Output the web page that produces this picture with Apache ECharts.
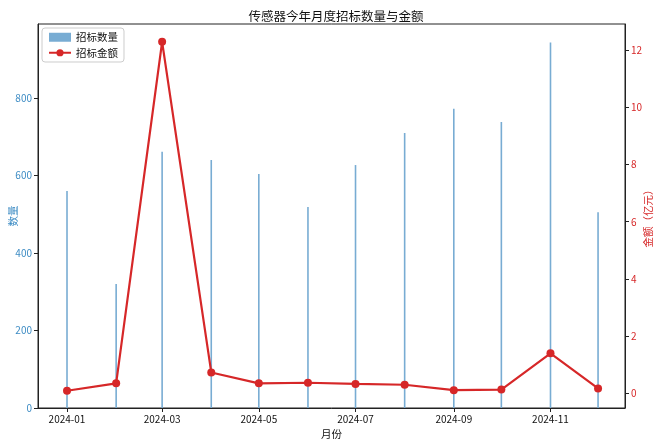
<!DOCTYPE html>
<html>
<head>
<meta charset="utf-8">
<script src="https://cdn.jsdelivr.net/npm/echarts@6/dist/echarts.min.js"></script>
<style>
html,body{margin:0;padding:0;background:#fff;}
#main{width:660px;height:446px;}
</style>
</head>
<body>
<div id="main"></div>
<script>
// ---- data ----
const months = ['2024-01','2024-02','2024-03','2024-04','2024-05','2024-06','2024-07','2024-08','2024-09','2024-10','2024-11','2024-12'];
const bidCounts = [560, 320, 661, 640, 604, 519, 627, 710, 772, 738, 943, 505];
const bidAmounts = [0.08, 0.34, 12.30, 0.72, 0.34, 0.36, 0.32, 0.29, 0.10, 0.12, 1.39, 0.16];
const xTickLabels = ['2024-01','2024-03','2024-05','2024-07','2024-09','2024-11'];
const leftTicks = [0, 200, 400, 600, 800];
const rightTicks = [0, 2, 4, 6, 8, 10, 12];

// x positions as days since 2024-01-01 (time scale)
const DAY = 86400000;
const BASE = Date.UTC(2024, 0, 1);
function toDay(m){ const p = m.split('-'); return (Date.UTC(+p[0], +p[1]-1, 1) - BASE) / DAY; }
const xs = months.map(toDay);
const xMin = xs[0] - 18.3;
const xMax = xs[xs.length-1] + 17.0;
const xTicks = xTickLabels.map(toDay);
function fmt(v){ const d = new Date(BASE + Math.round(v)*DAY); return d.getUTCFullYear() + '-' + String(d.getUTCMonth()+1).padStart(2,'0'); }

const FONT = 'Noto Sans CJK SC';
const BLUE_TXT = '#3d8cc4';
const RED = '#d62728';
const BAR = '#78acd3';

const chart = echarts.init(document.getElementById('main'), null, {renderer:'canvas'});
chart.setOption({
  animation: false,
  textStyle: {fontFamily: FONT},
  title: {
    text: '传感器今年月度招标数量与金额',
    left: 331, top: 5, textAlign: 'center',
    textStyle: {fontSize: 12.5, fontWeight: 'normal', color: '#111', fontFamily: FONT}
  },
  legend: {
    orient: 'vertical', left: 42, top: 28,
    backgroundColor: '#fff', borderColor: '#ccc', borderWidth: 1, borderRadius: 3,
    padding: [4, 6, 4, 6], itemGap: 5, itemWidth: 22, itemHeight: 9,
    textStyle: {fontSize: 10.5, color: '#111', fontFamily: FONT},
    data: [{name:'招标数量', icon:'rect'}, {name:'招标金额'}]
  },
  grid: {left: 38, right: 35, top: 24, bottom: 38, containLabel: false, outerBoundsMode: 'none',
         show: true, borderColor: '#222', borderWidth: 1, backgroundColor: 'transparent'},
  xAxis: {
    type: 'value', min: xMin, max: xMax,
    name: '月份', nameLocation: 'middle', nameGap: 21, nameMoveOverlap: false,
    nameTextStyle: {fontSize: 10.5, color: '#111', fontFamily: FONT},
    axisLine: {show: true, onZero: false, lineStyle: {color: '#222', width: 1}},
    axisTick: {show: true, length: 4, lineStyle: {color: '#222'}, customValues: xTicks},
    axisLabel: {customValues: xTicks, formatter: fmt, fontSize: 10, color: '#111', margin: 6, fontFamily: FONT},
    splitLine: {show: false}
  },
  yAxis: [
    {
      type: 'value', min: 0, max: 991, position: 'left',
      name: '数量', nameLocation: 'middle', nameRotate: 90, nameGap: 20, nameMoveOverlap: false,
      nameTextStyle: {fontSize: 10.5, color: BLUE_TXT, fontFamily: FONT},
      axisLine: {show: true, onZero: false, lineStyle: {color: '#222'}},
      axisTick: {show: true, length: 4, lineStyle: {color: '#222'}, customValues: leftTicks},
      axisLabel: {customValues: leftTicks, fontSize: 10, color: BLUE_TXT, margin: 6, fontFamily: FONT},
      splitLine: {show: false}
    },
    {
      type: 'value', min: -0.525, max: 12.925, position: 'right',
      name: '金额（亿元）', nameLocation: 'middle', nameRotate: 90, nameGap: 18, nameMoveOverlap: false,
      nameTextStyle: {fontSize: 10.5, color: RED, fontFamily: FONT},
      axisLine: {show: true, onZero: false, lineStyle: {color: '#222'}},
      axisTick: {show: true, length: 4, lineStyle: {color: '#222'}, customValues: rightTicks},
      axisLabel: {customValues: rightTicks, fontSize: 10, color: RED, margin: 6, fontFamily: FONT},
      splitLine: {show: false}
    }
  ],
  series: [
    {
      name: '招标数量', type: 'bar', yAxisIndex: 0, barWidth: 1.6,
      itemStyle: {color: BAR},
      data: xs.map((t, i) => [t, bidCounts[i]])
    },
    {
      name: '招标金额', type: 'line', yAxisIndex: 1,
      symbol: 'circle', symbolSize: 8,
      lineStyle: {color: RED, width: 2.2},
      itemStyle: {color: RED},
      data: xs.map((t, i) => [t, bidAmounts[i]])
    }
  ]
});
</script>
</body>
</html>
